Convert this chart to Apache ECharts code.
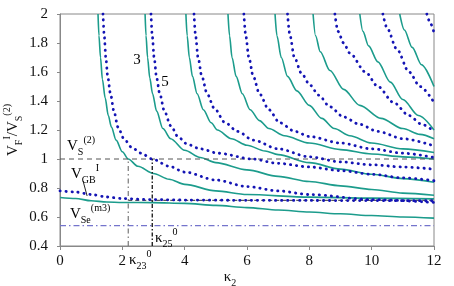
<!DOCTYPE html>
<html>
<head>
<meta charset="utf-8">
<title>V_F / V_S vs kappa2</title>
<script src="https://cdn.jsdelivr.net/npm/echarts@6/dist/echarts.min.js"></script>
<style>
  html, body { margin: 0; padding: 0; background: #fff; }
  #chart { width: 454px; height: 286px; }
</style>
</head>
<body>
<div id="chart"></div>
<script>
// axis ticks
const xTicks = [0, 2, 4, 6, 8, 10, 12];
const yTicks = [0.4, 0.6, 0.8, 1, 1.2, 1.4, 1.6, 1.8, 2];

// teal (solid) branches, [kappa2, V/Vs]
const t1 = [[1.22,2.0],[1.25,1.85],[1.3,1.7],[1.36,1.55],[1.45,1.42],[1.55,1.3],[1.65,1.22],[1.8,1.13],[2.0,1.05],[2.19,1.0],[2.5,0.95],[3.0,0.9],[3.5,0.86],[4,0.825],[5,0.78],[6,0.755],[8,0.737],[10,0.73],[12,0.725]];
const t2 = [[2.73,2.0],[2.76,1.85],[2.81,1.7],[2.88,1.56],[2.97,1.45],[3.1,1.33],[3.3,1.21],[3.55,1.14],[4,1.06],[4.5,1.01],[5,0.975],[6,0.925],[7,0.88],[8,0.845],[9,0.815],[10,0.79],[11,0.765],[12,0.75]];
const t3 = [[4.04,2.0],[4.08,1.85],[4.15,1.7],[4.25,1.57],[4.4,1.45],[4.6,1.34],[4.85,1.25],[5.05,1.2],[5.5,1.14],[6,1.095],[6.58,1.055],[7,1.03],[8,0.975],[9,0.93],[10,0.895],[11,0.865],[12,0.84]];
const t4 = [[5.39,2.0],[5.44,1.85],[5.52,1.7],[5.65,1.57],[5.85,1.45],[6.1,1.34],[6.4,1.265],[6.7,1.21],[7.2,1.16],[8,1.11],[9,1.065],[10,1.035],[11,1.015],[12,1.0]];
const t5 = [[6.9,2.0],[6.96,1.85],[7.1,1.7],[7.3,1.57],[7.6,1.47],[8.0,1.37],[8.4,1.28],[8.8,1.21],[9.3,1.16],[10,1.11],[11,1.07],[12,1.045]];
const t6 = [[8.12,2.0],[8.2,1.85],[8.35,1.74],[8.66,1.61],[9.1,1.48],[9.62,1.37],[10.3,1.28],[11,1.21],[11.55,1.17],[12,1.14]];
const t7 = [[9.62,2.0],[9.72,1.88],[9.9,1.78],[10.2,1.67],[10.6,1.53],[11,1.41],[11.5,1.3],[12,1.2]];
const t8 = [[10.9,2.0],[11.05,1.89],[11.3,1.77],[11.6,1.65],[12,1.5]];
const tLow = [[0,0.735],[0.5,0.728],[1,0.712],[1.5,0.703],[2,0.7],[3,0.699],[4,0.694],[5,0.68],[6,0.665],[7,0.648],[8,0.634],[9,0.622],[10,0.61],[11,0.6],[12,0.592]];

// blue (dotted) branches
const b1 = [[1.38,2.0],[1.42,1.85],[1.47,1.7],[1.53,1.57],[1.62,1.45],[1.73,1.33],[1.86,1.22],[2.05,1.14],[2.3,1.08],[2.6,1.04],[2.96,1.0],[3.5,0.95],[4,0.91],[5,0.855],[6,0.81],[7,0.78],[8,0.755],[10,0.72],[12,0.7]];
const b2 = [[2.92,2.0],[2.96,1.85],[3.02,1.7],[3.1,1.56],[3.2,1.45],[3.35,1.33],[3.55,1.23],[3.8,1.15],[4.1,1.1],[4.5,1.07],[5.07,1.04],[6.16,1.0],[7,0.97],[8,0.945],[9,0.92],[10,0.895],[11,0.87],[12,0.85]];
const b3 = [[4.3,2.0],[4.35,1.85],[4.43,1.7],[4.55,1.57],[4.72,1.45],[4.95,1.35],[5.3,1.25],[5.7,1.19],[6.2,1.13],[7,1.07],[8,1.015],[9,0.98],[10,0.96],[11,0.945],[12,0.93]];
const b4 = [[5.9,2.0],[5.96,1.85],[6.06,1.7],[6.2,1.57],[6.4,1.45],[6.7,1.34],[7.05,1.25],[7.54,1.19],[8,1.155],[9,1.11],[10,1.07],[11,1.04],[12,1.01]];
const b5 = [[7.3,2.0],[7.38,1.85],[7.52,1.7],[7.75,1.59],[8.02,1.51],[8.3,1.44],[8.66,1.36],[9.1,1.29],[9.6,1.24],[10.2,1.19],[11,1.14],[12,1.09]];
const b6 = [[8.82,2.0],[8.92,1.88],[9.1,1.8],[9.3,1.73],[9.8,1.6],[10.2,1.5],[10.7,1.39],[11.2,1.3],[11.6,1.24],[12,1.19]];
const b7 = [[10.36,2.0],[10.5,1.9],[10.8,1.76],[11.2,1.6],[11.55,1.5],[12,1.39]];
const b8 = [[11.77,2.0],[11.9,1.93],[12,1.87]];
const bGB = [[0,0.78],[0.5,0.772],[1,0.755],[1.5,0.738],[2,0.727],[3,0.72],[4,0.717],[6,0.715],[8,0.714],[10,0.713],[12,0.712]];

// reference levels
const vsLevel = [[0, 1], [12, 1]];
const vseLevel = [[0, 0.54], [12, 0.54]];
const vgbLevel = [[2.19, 0.715], [12, 0.715]];
const k23Line = [[2.19, 0.4], [2.19, 1]];
const k25Line = [[2.96, 0.4], [2.96, 1]];
const gbPointer = [[0.74, 0.848], [0.87, 0.745]];

const tealCurves = [tLow, t1, t2, t3, t4, t5, t6, t7, t8];
const blueCurves = [bGB, b1, b2, b3, b4, b5, b6, b7, b8];

const serif = "Liberation Serif";
const ink = "#111";
const rich = {
  m: { fontFamily: serif, fontSize: 15, lineHeight: 22, color: ink },
  sub: { fontFamily: serif, fontSize: 10, lineHeight: 8, verticalAlign: "bottom", color: ink },
  sup: { fontFamily: serif, fontSize: 10, lineHeight: 17, verticalAlign: "top", color: ink },
};

// annotations: text, data position, alignment
const notes = [
  { text: "{m|3}", at: [2.47, 1.683], align: "center" },
  { text: "{m|5}", at: [3.37, 1.531], align: "center" },
  { text: "{m|V}{sub|S}{sup|(2)}", at: [0.225, 1.09], align: "left" },
  { text: "{m|V}{sub|GB}{sup|I}", at: [0.353, 0.897], align: "left" },
  { text: "{m|V}{sub|Se}{sup|(m3)}", at: [0.32, 0.621], align: "left" },
  { text: "{m|κ}{sub|23}{sup|0}", at: [2.21, 0.303], align: "left" },
  { text: "{m|κ}{sub|25}{sup|0}", at: [3.05, 0.455], align: "left" },
];

const chart = echarts.init(document.getElementById("chart"));

function teal(data) {
  return {
    type: "line", data, showSymbol: false, smooth: 0.3, smoothMonotone: "x",
    silent: true, z: 2,
    lineStyle: { color: "#1c9c8c", width: 1.6 },
  };
}

function dotted(data) {
  return {
    type: "line", data, showSymbol: false, smooth: 0.3, smoothMonotone: "x",
    silent: true, z: 4,
    lineStyle: { color: "#1414b4", width: 2.8, type: [0.3, 5.7], cap: "round" },
  };
}

function ref(data, color, type, width) {
  return {
    type: "line", data, showSymbol: false, silent: true, z: 3,
    lineStyle: { color, width, type },
  };
}

const option = {
  animation: false,
  grid: {
    left: 60, right: 20, top: 14, bottom: 40,
    outerBoundsMode: "none",
    show: true, borderColor: "#888", borderWidth: 1,
  },
  xAxis: {
    type: "value",
    min: xTicks[0], max: xTicks[xTicks.length - 1], interval: 2,
    axisLine: { lineStyle: { color: "#888" } },
    axisTick: { show: true, length: 4, lineStyle: { color: "#888" } },
    splitLine: { show: false },
    axisLabel: { color: ink, fontFamily: serif, fontSize: 15, margin: 8 },
    name: "{m|κ}{sub|2}",
    nameLocation: "middle",
    nameGap: 20,
    nameMoveOverlap: false,
    nameTextStyle: { rich, padding: [0, 34, 0, 0] },
  },
  yAxis: {
    type: "value",
    min: yTicks[0], max: yTicks[yTicks.length - 1], interval: 0.2,
    axisLine: { show: true, lineStyle: { color: "#888" } },
    axisTick: { show: true, length: 3, lineStyle: { color: "#888" } },
    splitLine: { show: false },
    axisLabel: { color: ink, fontFamily: serif, fontSize: 15, margin: 12 },
    name: "{m|V}{sub|F}{sup|I}{m|/V}{sub|S}{sup|(2)}",
    nameLocation: "middle",
    nameRotate: 90,
    nameGap: 36,
    nameMoveOverlap: false,
    nameTextStyle: { rich },
  },
  series: [
    ref(vsLevel, "#555", [5, 4], 1),
    ref(vseLevel, "#7474cc", [6, 3, 1.5, 3], 1.2),
    ref(vgbLevel, "#333", [4, 3], 1),
    ref(k23Line, "#777", [5, 3, 1.5, 3], 1.2),
    ref(k25Line, "#111", [4, 2, 1.5, 2], 1.3),
    ref(gbPointer, "#222", "solid", 1),
    ...tealCurves.map(teal),
    ...blueCurves.map(dotted),
  ],
};

chart.setOption(option);

// text notes placed through the chart's own scales
chart.setOption({
  graphic: notes.map((n) => {
    const [px, py] = chart.convertToPixel({ gridIndex: 0 }, n.at);
    return {
      type: "text", x: px, y: py, z: 10, silent: true,
      style: { text: n.text, rich, align: n.align, verticalAlign: "middle" },
    };
  }),
});
</script>
</body>
</html>
